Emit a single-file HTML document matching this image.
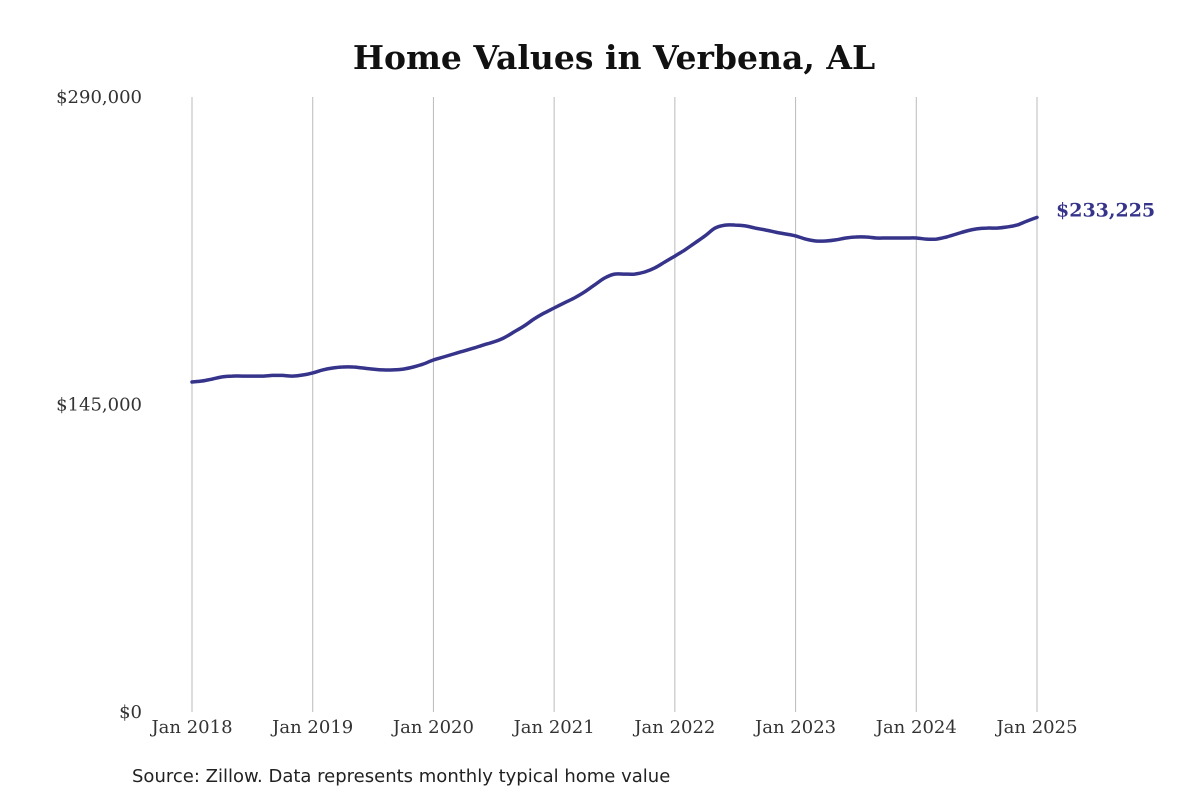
<!DOCTYPE html>
<html><head><meta charset="utf-8"><style>
html,body{margin:0;padding:0;background:#fff;width:1200px;height:800px;overflow:hidden}
svg text{font-family:"DejaVu Serif","Liberation Serif",serif}
</style></head><body>
<svg id="chart" width="1200" height="800">
<text x="614" y="69" text-anchor="middle" font-size="33" font-weight="bold" fill="#111">Home Values in Verbena, AL</text>
<g id="grid"></g><g id="yticks"></g><g id="xticks"></g><g id="series"></g>
<text x="132" y="782" font-size="18" fill="#222" style="font-family:'DejaVu Sans','Liberation Sans',sans-serif">Source: Zillow. Data represents monthly typical home value</text>
</svg>
<script>
const xTickLabels=["Jan 2018","Jan 2019","Jan 2020","Jan 2021","Jan 2022","Jan 2023","Jan 2024","Jan 2025"];
const yTickValues=[0,145000,290000];
const yTickLabels=["$0","$145,000","$290,000"];
const homeValues=[
155600,156100,157000,158000,158400,158400,158400,158400,158700,158700,158400,158900,
159900,161300,162200,162700,162700,162200,161700,161300,161300,161700,162700,164100,
166000,167400,168800,170200,171600,173100,174500,176400,179200,182000,185300,188100,
190500,192900,195200,198000,201300,204600,206500,206500,206500,207500,209400,212200,
215000,217900,221200,224500,228200,229600,229600,229200,228200,227300,226300,225400,
224500,223000,222100,222100,222600,223500,224000,224000,223500,223500,223500,223500,
223500,223000,223000,224000,225400,226800,227800,228200,228200,228700,229600,231500,
233225];
const lastLabel="$233,225";
const NS="http://www.w3.org/2000/svg";
const x0=192,x1=1037,yTop=97,yBot=712,yMax=290000;
const xs=i=>x0+(x1-x0)*i/(homeValues.length-1);
const ys=v=>yBot-(yBot-yTop)*v/yMax;
function mk(tag,attrs,parent){const e=document.createElementNS(NS,tag);for(const k in attrs)e.setAttribute(k,attrs[k]);document.getElementById(parent).appendChild(e);return e;}
xTickLabels.forEach((l,i)=>{
  const x=xs(i*12);
  const g=mk('line',{x1:x,x2:x,y1:yTop,y2:yBot,stroke:'#bbb','stroke-width':1},'grid');
  
  
  const t=mk('text',{x:x,y:733,'text-anchor':'middle','font-size':18,fill:'#333'},'xticks');
  t.textContent=l;
  
  
});
yTickValues.forEach((v,i)=>{
  const t=mk('text',{x:142,y:ys(v)+6,'text-anchor':'end','font-size':18,fill:'#333'},'yticks');
  t.textContent=yTickLabels[i];
  
  
});
const pts=homeValues.map((v,i)=>[xs(i),ys(v)]);
let d="M"+pts[0][0].toFixed(1)+","+pts[0][1].toFixed(1);
for(let i=0;i<pts.length-1;i++){
  const p0=pts[Math.max(0,i-1)],p1=pts[i],p2=pts[i+1],p3=pts[Math.min(pts.length-1,i+2)];
  const c1=[p1[0]+(p2[0]-p0[0])/6,p1[1]+(p2[1]-p0[1])/6];
  const c2=[p2[0]-(p3[0]-p1[0])/6,p2[1]-(p3[1]-p1[1])/6];
  d+="C"+c1.map(n=>n.toFixed(1))+" "+c2.map(n=>n.toFixed(1))+" "+p2.map(n=>n.toFixed(1));
}
const p=mk('path',{d:d,fill:'none',stroke:'#36348a','stroke-width':3.5,'stroke-linejoin':'round','stroke-linecap':'round'},'series');


const lv=homeValues[homeValues.length-1];
const lt=mk('text',{x:1056,y:ys(lv)-1,'font-size':19,'font-weight':'bold',fill:'#36348a'},'series');
lt.textContent=lastLabel;


</script>
</body></html>
